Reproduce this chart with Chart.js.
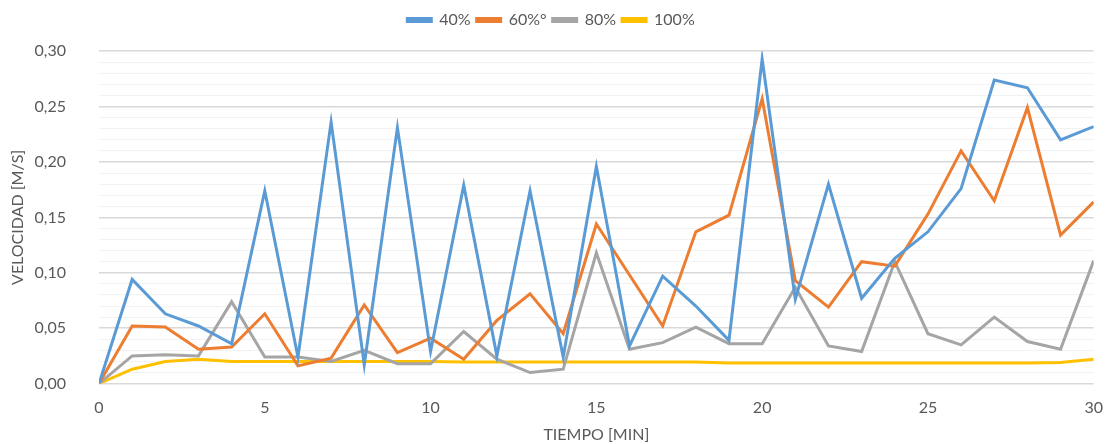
<!DOCTYPE html>
<html>
<head>
<meta charset="utf-8">
<script src="https://cdn.jsdelivr.net/npm/chart.js@4.4.1/dist/chart.umd.min.js"></script>
<style>
  html, body { margin: 0; padding: 0; background: #fff; }
  #wrap { width: 1110px; height: 444px; }
</style>
</head>
<body>
<div id="wrap"><canvas id="myChart" width="1110" height="444"></canvas></div>
<script>
// tiempo [min]
var minutes = [0,1,2,3,4,5,6,7,8,9,10,11,12,13,14,15,16,17,18,19,20,21,22,23,24,25,26,27,28,29,30];

// velocidad [m/s]
var v40 = [0, 0.094, 0.063, 0.052, 0.036, 0.174, 0.024, 0.236, 0.017, 0.231, 0.029,
  0.179, 0.025, 0.174, 0.024, 0.196, 0.034, 0.097, 0.070, 0.039, 0.293,
  0.076, 0.180, 0.077, 0.113, 0.137, 0.176, 0.274, 0.267, 0.220, 0.232];
var v60 = [0, 0.052, 0.051, 0.031, 0.033, 0.063, 0.016, 0.023, 0.071, 0.028, 0.041,
  0.022, 0.057, 0.081, 0.045, 0.144, 0.098, 0.052, 0.137, 0.152, 0.257,
  0.093, 0.069, 0.110, 0.106, 0.153, 0.210, 0.165, 0.249, 0.134, 0.164];
var v80 = [0, 0.025, 0.026, 0.025, 0.074, 0.024, 0.024, 0.020, 0.030, 0.018, 0.018,
  0.047, 0.022, 0.010, 0.013, 0.118, 0.031, 0.037, 0.051, 0.036, 0.036,
  0.087, 0.034, 0.029, 0.110, 0.045, 0.035, 0.060, 0.038, 0.031, 0.111];
var v100 = [0, 0.013, 0.020, 0.022, 0.020, 0.020, 0.020, 0.020, 0.020, 0.020, 0.020,
  0.0195, 0.0195, 0.0195, 0.0195, 0.0195, 0.0195, 0.0195, 0.0195, 0.0185, 0.0185,
  0.0185, 0.0185, 0.0185, 0.0185, 0.0185, 0.0185, 0.0185, 0.0185, 0.019, 0.022];

var seriesNames = ["40%", "60%°", "80%", "100%"];

function pts(vals) {
  var out = [];
  for (var i = 0; i < minutes.length; i++) {
    out.push({ x: minutes[i], y: vals[i] });
  }
  return out;
}

// major grid every 0,05, minor every 0,01
function isMajor(v) {
  return Math.round(v * 100) % 5 === 0;
}

var font = "Lato, 'Open Sans', sans-serif";
var txt = "#595959";

var ctx = document.getElementById("myChart");

var data = {
  datasets : [
    { label : seriesNames[0], data : pts(v40), borderColor : "#5b9bd5", backgroundColor : "#5b9bd5" },
    { label : seriesNames[1], data : pts(v60), borderColor : "#ed7d31", backgroundColor : "#ed7d31" },
    { label : seriesNames[2], data : pts(v80), borderColor : "#a5a5a5", backgroundColor : "#a5a5a5" },
    { label : seriesNames[3], data : pts(v100), borderColor : "#ffc000", backgroundColor : "#ffc000" }
  ]
};
data.datasets.forEach(function (d) {
  d.borderWidth = 3;
  d.pointRadius = 0;
  d.lineTension = 0;
  d.fill = false;
});

var options = {
  responsive : false,
  animation : false,
  layout : { padding : { left : 8, right : 16, top : 6, bottom : 0 } },
  plugins : {
    legend : {
      display : true,
      position : "top",
      labels : {
        boxWidth : 24,
        boxHeight : 3,
        padding : 6,
        color : txt,
        font : { family : font, size : 16 }
      }
    },
    // empty spacer between legend and plot
    subtitle : {
      display : true,
      text : "",
      weight : 500,
      font : { size : 1 },
      padding : { top : 0, bottom : 12 }
    },
    tooltip : { enabled : false }
  },
  scales : {
    x : {
      type : "linear",
      min : 0,
      max : 30,
      ticks : { stepSize : 5, color : txt, padding : 7, font : { family : font, size : 16 } },
      grid : { display : false },
      border : { display : false },
      title : { display : true, text : "TIEMPO [MIN]", color : txt, font : { family : font, size : 16 }, padding : { top : 0, bottom : 0 } }
    },
    y : {
      min : 0,
      max : 0.30,
      afterFit : function (scale) { scale.width = 91; },
      ticks : {
        stepSize : 0.01,
        autoSkip : false,
        color : txt,
        padding : 33,
        font : { family : font, size : 16 },
        callback : function (value) {
          return isMajor(value) ? value.toFixed(2).replace(".", ",") : "";
        }
      },
      grid : {
        drawTicks : false,
        lineWidth : function (c) { return isMajor(c.tick.value) ? 1.5 : 1; },
        color : function (c) { return isMajor(c.tick.value) ? "#d9d9d9" : "#f2f2f2"; }
      },
      border : { display : false },
      title : { display : true, text : "VELOCIDAD [M/S]", color : txt, font : { family : font, size : 16 }, padding : { top : 0, bottom : 4 } }
    }
  }
};

var chart = new Chart(ctx, {
  type : "line",
  data : data,
  options : options
});
</script>
</body>
</html>
